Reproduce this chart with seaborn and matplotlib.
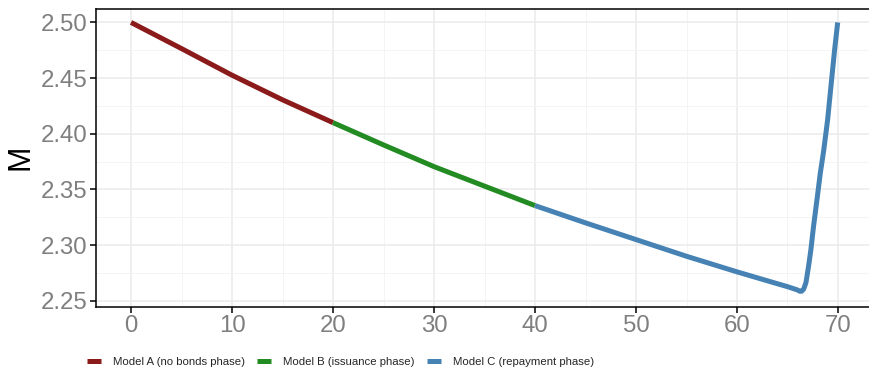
import numpy as np
import pandas as pd
import matplotlib
matplotlib.use("Agg")
import matplotlib.pyplot as plt
import seaborn as sns
from matplotlib.ticker import MultipleLocator, FormatStrFormatter
from matplotlib import font_manager

# Data
a_t = [0, 5, 10, 15, 20]
a_m = [2.500, 2.4765, 2.4526, 2.4305, 2.410]

b_t = [20, 25, 30, 35, 40]
b_m = [2.410, 2.390, 2.3705, 2.353, 2.3355]

c_t = [40, 45, 50, 55, 60, 63.3, 65, 66.0, 66.2, 66.4, 66.6, 66.83, 67.09,
       67.32, 67.58, 67.92, 68.25, 68.57, 68.97, 69.33, 69.66, 69.97]
c_m = [2.3355, 2.320, 2.305, 2.290, 2.276, 2.2672, 2.2627, 2.2597, 2.2586,
       2.2586, 2.2605, 2.2664, 2.2813, 2.2962, 2.317, 2.3409, 2.3648, 2.3840,
       2.4124, 2.4452, 2.475, 2.500]

labels = ["Model A (no bonds phase)", "Model B (issuance phase)",
          "Model C (repayment phase)"]
colors = ["#8B1A1A", "#228B22", "#4682B4"]

df = pd.concat([
    pd.DataFrame({"t": a_t, "M": a_m, "model": labels[0]}),
    pd.DataFrame({"t": b_t, "M": b_m, "model": labels[1]}),
    pd.DataFrame({"t": c_t, "M": c_m, "model": labels[2]}),
])

sns.set_theme(style="white")
plt.rcParams["font.family"] = ["Liberation Sans", "DejaVu Sans"]

# narrow face for the legend, if present
names = {f.name for f in font_manager.fontManager.ttflist}
legend_family = "Liberation Sans Narrow" if "Liberation Sans Narrow" in names else "Liberation Sans"
legend_size = 9.8 if legend_family == "Liberation Sans Narrow" else 8.2

fig = plt.figure(figsize=(8.69, 3.78), dpi=100)
ax = fig.add_axes([0.1101, 0.188, 0.8949, 0.7895])

sns.lineplot(data=df, x="t", y="M", hue="model", palette=colors,
             hue_order=labels, linewidth=3.6, sort=False, estimator=None,
             ax=ax, solid_capstyle="butt", solid_joinstyle="round")

ax.set_xlim(-3.5, 73.5)
ax.set_ylim(2.2445, 2.5125)
ax.xaxis.set_major_locator(MultipleLocator(10))
ax.xaxis.set_minor_locator(MultipleLocator(5))
ax.yaxis.set_major_locator(MultipleLocator(0.05))
ax.yaxis.set_minor_locator(MultipleLocator(0.025))
ax.yaxis.set_major_formatter(FormatStrFormatter("%.2f"))

ax.grid(which="major", color="#EBEBEB", linewidth=1.1)
ax.grid(which="minor", color="#F3F3F3", linewidth=0.6)
ax.set_axisbelow(True)

for side in ["left", "bottom", "top"]:
    ax.spines[side].set_visible(True)
    ax.spines[side].set_color("black")
    ax.spines[side].set_linewidth(1.1)
ax.spines["right"].set_visible(False)

ax.tick_params(axis="both", which="major", direction="out", length=4,
               width=1.1, color="black", labelsize=17.3, labelcolor="#7F7F7F",
               left=True, bottom=True, pad=2)
ax.tick_params(which="minor", length=0)

ax.set_xlabel("")
ax.set_ylabel("M", fontsize=22, color="black", labelpad=4)

handles, lbls = ax.get_legend_handles_labels()
ax.get_legend().remove()
fig.legend(handles, lbls, loc="center", bbox_to_anchor=(0.392, 0.042),
           ncol=3, frameon=False, handlelength=1.25,
           handletextpad=1.05, columnspacing=1.05,
           prop={"family": legend_family, "size": legend_size})

fig.savefig("out.png", dpi=100)
